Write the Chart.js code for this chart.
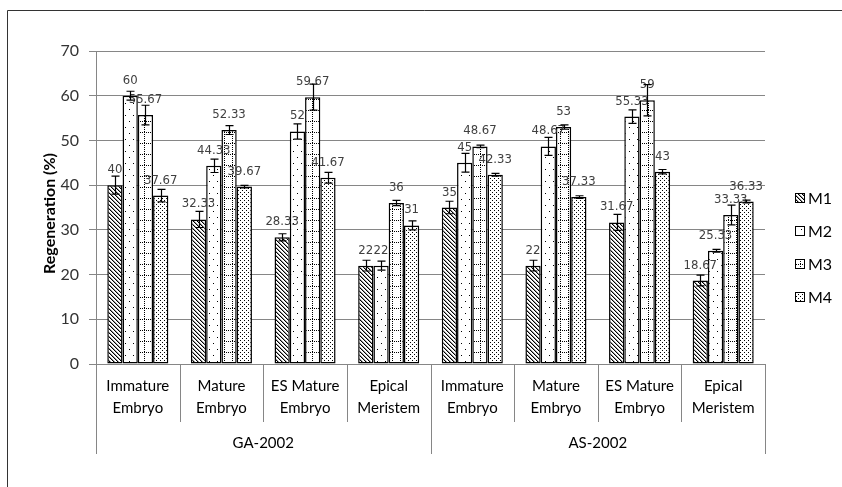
<!DOCTYPE html>
<html>
<head>
<meta charset="utf-8">
<script src="https://cdn.jsdelivr.net/npm/chart.js@4.4.0/dist/chart.umd.min.js"></script>
<style>
html,body{margin:0;padding:0;background:#fff;}
#wrap{width:842px;height:487px;position:relative;}
</style>
</head>
<body>
<div id="wrap"><canvas id="c" width="842" height="487"></canvas></div>
<script>
// ---- data ----
const categories = [["Immature","Embryo"],["Mature","Embryo"],["ES Mature","Embryo"],["Epical","Meristem"],
                    ["Immature","Embryo"],["Mature","Embryo"],["ES Mature","Embryo"],["Epical","Meristem"]];
const groups = ["GA-2002","AS-2002"];
const seriesNames = ["M1","M2","M3","M4"];
const m1 = [40, 32.33, 28.33, 22, 35, 22, 31.67, 18.67];
const m2 = [60, 44.33, 52, 22, 45, 48.67, 55.33, 25.33];
const m3 = [55.67, 52.33, 59.67, 36, 48.67, 53, 59, 33.33];
const m4 = [37.67, 39.67, 41.67, 31, 42.33, 37.33, 43, 36.33];
const e1 = [2, 1.8, 0.8, 1.2, 1.4, 1.2, 1.8, 1.2];
const e2 = [1, 1.5, 1.7, 1, 2.1, 2, 1.5, 0.3];
const e3 = [2.2, 1, 2.9, 0.6, 0.3, 0.5, 3.5, 2.2];
const e4 = [1.4, 0.3, 1.2, 1, 0.3, 0.3, 0.5, 0.3];
const yTicks = [0,10,20,30,40,50,60,70];

// ---- patterns ----
function makePattern(kind){
  const c = document.createElement('canvas');
  const x = c.getContext('2d');
  let w=4,h=4;
  if(kind===0){w=4;h=4;}
  if(kind===1){w=8;h=12;}
  if(kind===2){w=8;h=11;}
  if(kind===3){w=4;h=4;}
  c.width=w;c.height=h;
  x.fillStyle='#fff';x.fillRect(0,0,w,h);
  x.fillStyle='#000';
  if(kind===0){
    for(let i=0;i<4;i++){x.fillStyle='#000';x.fillRect(i,i,1,1);x.fillStyle='#9a9a9a';x.fillRect((i+1)%4,i,1,1);}
  } else if(kind===1){
    x.fillRect(1,1,1,1);x.fillRect(5,7,1,1);
  } else if(kind===2){
    for(let i=0;i<w;i+=2) x.fillRect(i,0,1,1);
    for(let j=2;j<h;j+=2) x.fillRect(0,j,1,1);
  } else {
    x.fillRect(0,0,1,1);x.fillRect(2,2,1,1);
  }
  return x.createPattern(c,'repeat');
}
const patterns = [0,1,2,3].map(makePattern);
const values = [m1,m2,m3,m4];
const errors = [e1,e2,e3,e4];

const FONT = 'Lato, "Open Sans", sans-serif';

const decor = {
  id:'decor',
  beforeDraw(chart){
    const ctx=chart.ctx;
    ctx.save();ctx.fillStyle='#fff';ctx.fillRect(0,0,chart.width,chart.height);ctx.restore();
  },
  afterDatasetsDraw(chart){
    const ctx=chart.ctx, ys=chart.scales.y;
    ctx.save();
    // data labels
    ctx.font='13px "DejaVu Sans Condensed", "DejaVu Sans", sans-serif';
    ctx.fillStyle='#404040';ctx.textAlign='center';ctx.textBaseline='alphabetic';
    chart.data.datasets.forEach((ds,i)=>{
      chart.getDatasetMeta(i).data.forEach((el,j)=>{
        ctx.fillText(String(ds.data[j]), el.x, el.y-12);
      });
    });
    // error bars
    ctx.strokeStyle='#000';ctx.lineWidth=1.2;
    chart.data.datasets.forEach((ds,i)=>{
      chart.getDatasetMeta(i).data.forEach((el,j)=>{
        const v=ds.data[j], e=errors[i][j];
        const yt=ys.getPixelForValue(v+e), yb=ys.getPixelForValue(v-e);
        const x=Math.round(el.x)+0.5;
        ctx.beginPath();
        ctx.moveTo(x,yt);ctx.lineTo(x,yb);
        ctx.moveTo(x-4,yt);ctx.lineTo(x+4,yt);
        ctx.moveTo(x-4,yb);ctx.lineTo(x+4,yb);
        ctx.stroke();
      });
    });
    ctx.restore();
  },
  afterDraw(chart){
    const ctx=chart.ctx, a=chart.chartArea;
    ctx.save();
    // outer frame (top and left)
    ctx.strokeStyle='#333';ctx.lineWidth=1;
    ctx.beginPath();ctx.moveTo(7.5,487);ctx.lineTo(7.5,10.5);ctx.lineTo(842,10.5);ctx.stroke();
    // category table
    const n=categories.length, w=(a.right-a.left)/n;
    ctx.strokeStyle='#868686';ctx.lineWidth=1;
    for(let j=0;j<=n;j++){
      const x=Math.round(a.left+j*w)+0.5;
      const outer=(j%4===0);
      ctx.beginPath();ctx.moveTo(x,a.bottom);ctx.lineTo(x,outer?454:422);ctx.stroke();
    }
    ctx.fillStyle='#000';ctx.textAlign='center';ctx.textBaseline='middle';
    ctx.font='15px '+FONT;
    categories.forEach((lines,j)=>{
      const cx=a.left+(j+0.5)*w;
      ctx.fillText(lines[0],cx,386);
      ctx.fillText(lines[1],cx,408);
    });
    groups.forEach((g,k)=>{
      ctx.fillText(g, a.left+(k*4+2)*w, 443);
    });
    // y title
    ctx.save();
    ctx.translate(50,(a.top+a.bottom)/2+6);ctx.rotate(-Math.PI/2);
    ctx.font='bold 16px '+FONT;ctx.fillStyle='#000';
    ctx.fillText('Regeneration (%)',0,0);
    ctx.restore();
    // legend
    const ly=[198,231,264,297];
    ctx.font='16px '+FONT;ctx.textAlign='left';
    seriesNames.forEach((s,i)=>{
      ctx.fillStyle=patterns[i];
      ctx.fillRect(795,ly[i]-5,10,10);
      ctx.strokeStyle='#000';ctx.lineWidth=1;
      ctx.strokeRect(795.5,ly[i]-4.5,9,9);
      ctx.fillStyle='#000';
      ctx.fillText(s,808,ly[i]+1);
    });
    ctx.restore();
  }
};

new Chart(document.getElementById('c'),{
  type:'bar',
  data:{
    labels: categories.map(c=>c.join(' ')),
    datasets: seriesNames.map((s,i)=>({
      label:s, data:values[i], backgroundColor:patterns[i],
      borderColor:'#000', borderWidth:1.5, borderSkipped:false,
      categoryPercentage:0.73, barPercentage:1
    }))
  },
  options:{
    responsive:false, animation:false, devicePixelRatio:1,
    layout:{padding:{left:0,right:77,top:51,bottom:0}},
    plugins:{legend:{display:false},tooltip:{enabled:false}},
    scales:{
      x:{
        grid:{display:false},
        ticks:{display:false},
        border:{display:true,color:'#868686',width:1},
        afterFit(s){s.height=123;}
      },
      y:{
        min:0,max:70,
        afterBuildTicks(s){s.ticks=yTicks.map(v=>({value:v}));},
        grid:{color:'#868686',lineWidth:1,tickLength:7,drawTicks:true},
        border:{display:true,color:'#868686',width:1},
        ticks:{font:{family:FONT,size:16},color:'#333',padding:10},
        afterFit(s){s.width=96;}
      }
    }
  },
  plugins:[decor]
});
</script>
</body>
</html>
